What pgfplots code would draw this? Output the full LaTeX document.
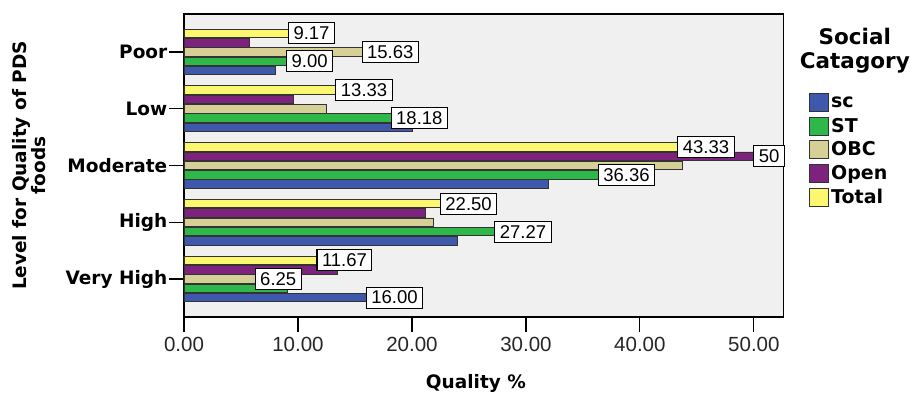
\documentclass[border=0pt]{standalone}
\usepackage{fontspec}
\setmainfont{Liberation Sans}
\newfontfamily\dv{DejaVu Sans}
\usepackage{pgfplots}
\pgfplotsset{compat=1.18}
\definecolor{cSC}{RGB}{62,88,172}
\definecolor{cST}{RGB}{46,184,74}
\definecolor{cOBC}{RGB}{214,208,150}
\definecolor{cOpen}{RGB}{125,34,125}
\definecolor{cTotal}{RGB}{251,247,110}
\definecolor{bgc}{RGB}{240,240,240}
\pgfplotsset{
  mybar/.style={fill=#1, draw=black!80, line width=0.8pt,
    legend image code/.code={\draw[##1, line width=1pt] (0pt,-9pt) rectangle (19pt,9pt);}},
  mylab/.style={draw=none, fill=none, forget plot, bar shift=#1,
    point meta=explicit symbolic, nodes near coords,
    every node near coord/.append style={draw=black, fill=white, line width=1.1pt,
      text=black, anchor=west, inner xsep=5pt, inner ysep=0pt, outer sep=0pt,
      minimum height=21pt, font=\fontsize{18.5}{20}\selectfont}},
}
\begin{document}
\begin{tikzpicture}
\useasboundingbox (0,0) rectangle (911pt,392pt);
\begin{axis}[
  at={(184pt,75pt)}, anchor=south west,
  scale only axis, width=599.5pt, height=303pt,
  xbar, bar width=0.15,
  xmin=0, xmax=52.6, ymin=-0.67, ymax=4.67,
  clip=false,
  xtick={0,10,...,50}, ytick={0,1,2,3,4},
  yticklabels={Very High,High,Moderate,Low,Poor},
  xticklabel={\pgfmathprintnumber[fixed,fixed zerofill,precision=2,assume math mode=true]{\tick}},
  xtick pos=bottom, ytick pos=left, tick align=outside,
  major tick length=15pt,
  tick style={black, line width=1.2pt},
  axis line style={black, line width=1.2pt},
  axis background/.style={fill=bgc},
  xticklabel style={font=\fontsize{20.5}{24}\selectfont, text=black!85, yshift=-2pt},
  yticklabel style={font=\dv\bfseries\fontsize{18.5}{22}\selectfont, inner xsep=1.5pt},
  xlabel={Quality \%},
  xlabel style={font=\dv\bfseries\fontsize{18.5}{22}\selectfont, at={(axis description cs:0.487,-0.218)}, anchor=center},
  ylabel={Level for Quality of PDS\\foods},
  ylabel style={font=\dv\bfseries\fontsize{18.5}{17}\selectfont, align=center, at={(axis description cs:-0.258,0.5)}, anchor=center},
  legend style={at={(axis description cs:1.0425,0.739)}, anchor=north west, draw=none, fill=none,
    inner sep=0pt, row sep=4pt, font=\dv\bfseries\fontsize{19}{22}\selectfont},
  legend cell align=left,
]
\addplot[mybar=cSC, bar shift=-0.328] coordinates {(8.00,4) (20.00,3) (32.00,2) (24.00,1) (16.00,0)};
\addlegendentry{sc}
\addplot[mybar=cST, bar shift=-0.164] coordinates {(9.00,4) (18.18,3) (36.36,2) (27.27,1) (9.09,0)};
\addlegendentry{ST}
\addplot[mybar=cOBC, bar shift=0] coordinates {(15.63,4) (12.50,3) (43.75,2) (21.88,1) (6.25,0)};
\addlegendentry{OBC}
\addplot[mybar=cOpen, bar shift=0.164] coordinates {(5.77,4) (9.62,3) (50.00,2) (21.15,1) (13.46,0)};
\addlegendentry{Open}
\addplot[mybar=cTotal, bar shift=0.328] coordinates {(9.17,4) (13.33,3) (43.33,2) (22.50,1) (11.67,0)};
\addlegendentry{Total}
% value labels
\addplot[mylab=-0.328] coordinates {(16.00,0) [16.00]};
\addplot[mylab=-0.164] coordinates {(9.00,4) [9.00] (18.18,3) [18.18] (36.36,2) [36.36] (27.27,1) [27.27]};
\addplot[mylab=0] coordinates {(15.63,4) [15.63] (6.25,0) [6.25]};
\addplot[mylab=0.164] coordinates {(50.00,2) [50]};
\addplot[mylab=0.328] coordinates {(9.17,4) [9.17] (13.33,3) [13.33] (43.33,2) [43.33] (22.50,1) [22.50] (11.67,0) [11.67]};
\node[font=\dv\bfseries\fontsize{21.5}{24}\selectfont, align=center] at (axis description cs:1.119,0.8795) {Social\\Catagory};
\end{axis}
\end{tikzpicture}
\end{document}
